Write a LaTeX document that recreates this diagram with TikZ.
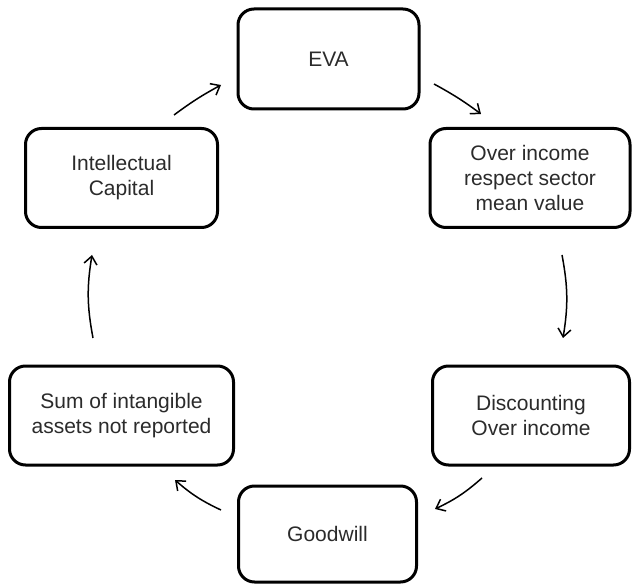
\documentclass[tikz,border=0pt]{standalone}
\usepackage{fontspec}
\setmainfont{Liberation Sans}
\usetikzlibrary{arrows.meta}
\definecolor{txt}{HTML}{2B2B2B}
\tikzset{
  box/.style={draw=black, line width=3pt, rounded corners=16pt, align=center,
    inner sep=0pt, text=txt, font=\fontsize{21}{25}\selectfont},
  flow/.style={line width=1.5pt, -{Straight Barb[length=8pt,width=13pt]}, black}
}
\begin{document}
\begin{tikzpicture}[x=1pt,y=-1pt]
\useasboundingbox (0,0) rectangle (632,585);
\fill[white] (0,0) rectangle (632,585);
% boxes
\node[box, minimum width=181pt, minimum height=100pt] (eva) at (328.5,59) {EVA};
\node[box, minimum width=200pt, minimum height=99pt] (over) at (530,178) {Over income\\respect sector\\mean value};
\node[box, minimum width=197pt, minimum height=99pt] (disc) at (531,415.5) {Discounting\\Over income};
\node[box, minimum width=178pt, minimum height=96pt] (good) at (327.5,534) {Goodwill};
\node[box, minimum width=224pt, minimum height=99pt] (sum) at (121.5,415.5) {Sum of intangible\\assets not reported};
\node[box, minimum width=192pt, minimum height=99pt] (ic) at (121.5,178) {Intellectual\\Capital};
% connector end points
\coordinate (a1s) at (174,115); \coordinate (a1e) at (221,85);
\coordinate (a2s) at (434,84);  \coordinate (a2e) at (481,114);
\coordinate (a3s) at (562,255); \coordinate (a3e) at (563,338);
\coordinate (a4s) at (482,478); \coordinate (a4e) at (435,509);
\coordinate (a5s) at (221,510); \coordinate (a5e) at (175,480);
\coordinate (a6s) at (93,338);  \coordinate (a6e) at (92,255);
\draw[flow] (a1s) to[bend left=4] (a1e);
\draw[flow] (a2s) to[bend left=4] (a2e);
\draw[flow] (a3s) to[bend left=10] (a3e);
\draw[flow] (a4s) to[bend left=8] (a4e);
\draw[flow] (a5s) to[bend left=8] (a5e);
\draw[flow] (a6s) to[bend left=10] (a6e);
\end{tikzpicture}
\end{document}
